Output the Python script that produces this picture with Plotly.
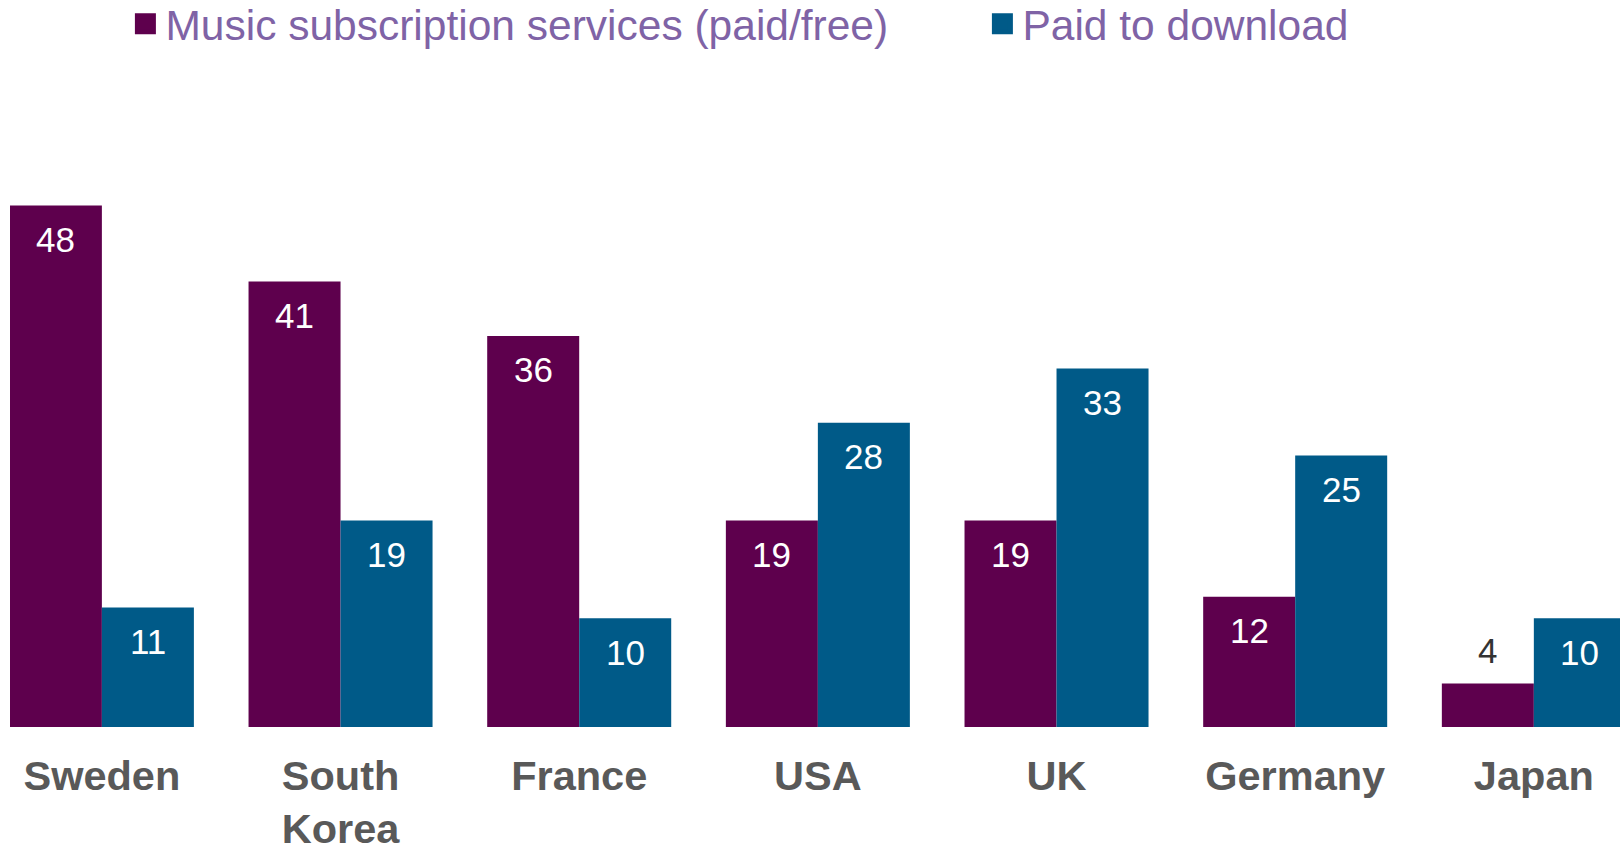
import plotly.graph_objects as go

countries = ["Sweden", "South<br>Korea", "France", "USA", "UK", "Germany", "Japan"]
subscription = [48, 41, 36, 19, 19, 12, 4]
download = [11, 19, 10, 28, 33, 25, 10]
series_names = ["Music subscription services (paid/free)", "Paid to download"]

PURPLE = "#5e004d"
BLUE = "#005a88"
FONT = "Liberation Sans, Arial, sans-serif"
W, H = 1620, 848

fig = go.Figure()
fig.add_trace(go.Bar(x=countries, y=subscription, name=series_names[0],
                     marker=dict(color=PURPLE, line=dict(width=0)), showlegend=False))
fig.add_trace(go.Bar(x=countries, y=download, name=series_names[1],
                     marker=dict(color=BLUE, line=dict(width=0)), showlegend=False))

# legend swatches (one legend per series so they sit apart like the original)
for name, col, lg in zip(series_names, [PURPLE, BLUE], ["legend", "legend2"]):
    fig.add_trace(go.Scatter(x=[None], y=[None], mode="markers", name=name, legend=lg,
                             marker=dict(symbol="square", size=16, color=col,
                                         line=dict(width=5, color=col))))

# data labels
annotations = []
BAR_HALF = 46
for vals, sign in [(subscription, -1), (download, 1)]:
    for c, v in zip(countries, vals):
        inside = v >= 8
        annotations.append(dict(
            x=c, y=v, xref="x", yref="y", text=str(v), showarrow=False,
            xshift=sign * BAR_HALF, yshift=-34 if inside else 33,
            yanchor="middle", xanchor="center",
            font=dict(family=FONT, size=35, color="white" if inside else "#333333")))

legend_common = dict(orientation="h", xref="container", yref="container",
                     xanchor="left", yanchor="middle",
                     font=dict(family=FONT, size=42.5, color="#7f63a6"),
                     itemsizing="trace", bgcolor="rgba(0,0,0,0)")

fig.update_layout(
    width=W, height=H,
    margin=dict(l=10, r=0, t=100, b=120.6, autoexpand=False),
    paper_bgcolor="white", plot_bgcolor="white",
    barmode="group", bargap=0.229, bargroupgap=0,
    font=dict(family=FONT),
    showlegend=True,
    legend=dict(x=125.4 / W, y=1 - 24 / H, **legend_common),
    legend2=dict(x=982.4 / W, y=1 - 24 / H, **legend_common),
    annotations=annotations,
)
fig.update_xaxes(range=[-0.385, 6.361], showline=False, showgrid=False, ticks="",
                 tickfont=dict(family=FONT, size=41.5, color="#595959", weight="bold"),
                 ticklabelstandoff=20, automargin=False, fixedrange=True)
fig.update_yaxes(visible=False, range=[0, 627.4 / 10.87], fixedrange=True)

fig.write_html("out.html", config={"displayModeBar": False},
               post_script="document.body.style.margin='0';")
